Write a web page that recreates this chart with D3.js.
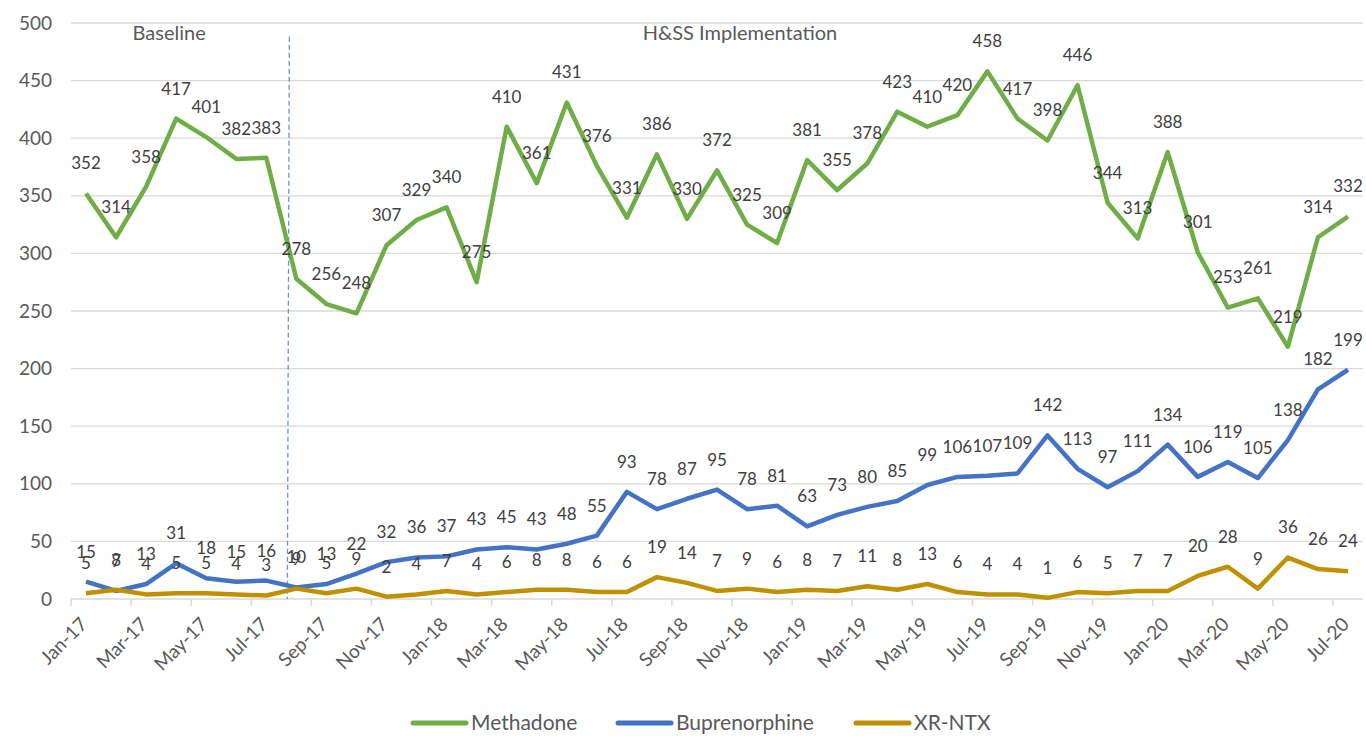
<!DOCTYPE html>
<html>
<head>
<meta charset="utf-8">
<script src="https://cdn.jsdelivr.net/npm/d3@7"></script>
<style>
  body { margin: 0; background: #fff; }
  text { font-family: Lato, "Open Sans", sans-serif; }
</style>
</head>
<body>
<svg id="chart"></svg>
<script>
const months = ["Jan-17","Feb-17","Mar-17","Apr-17","May-17","Jun-17","Jul-17","Aug-17","Sep-17","Oct-17","Nov-17","Dec-17",
  "Jan-18","Feb-18","Mar-18","Apr-18","May-18","Jun-18","Jul-18","Aug-18","Sep-18","Oct-18","Nov-18","Dec-18",
  "Jan-19","Feb-19","Mar-19","Apr-19","May-19","Jun-19","Jul-19","Aug-19","Sep-19","Oct-19","Nov-19","Dec-19",
  "Jan-20","Feb-20","Mar-20","Apr-20","May-20","Jun-20","Jul-20"]

const methadone = [352,314,358,417,401,382,383,278,256,248,307,329,
  340,275,410,361,431,376,331,386,330,372,325,309,
  381,355,378,423,410,420,458,417,398,446,344,313,
  388,301,253,261,219,314,332]

const buprenorphine = [15,7,13,31,18,15,16,10,13,22,32,36,
  37,43,45,43,48,55,93,78,87,95,78,81,
  63,73,80,85,99,106,107,109,142,113,97,111,
  134,106,119,105,138,182,199]

const xrntx = [5,8,4,5,5,4,3,9,5,9,2,4,
  7,4,6,8,8,6,6,19,14,7,9,6,
  8,7,11,8,13,6,4,4,1,6,5,7,
  7,20,28,9,36,26,24]

const yTicks = [0,50,100,150,200,250,300,350,400,450,500]

const series = [
  {name: "Methadone", values: methadone, color: "#70AD47"},
  {name: "Buprenorphine", values: buprenorphine, color: "#4472C4"},
  {name: "XR-NTX", values: xrntx, color: "#BF9000"}
]

// phase labels sit between two months
const phases = [
  {label: "Baseline", from: "Mar-17", to: "Apr-17"},
  {label: "H&SS Implementation", from: "Oct-18", to: "Nov-18"}
]

const width = 1366, height = 736
const margins = {left: 71, right: 3, top: 23, bottom: 137}

const svg = d3.select("#chart").attr("width", width).attr("height", height)

const x = d3.scaleBand().domain(months).range([margins.left, width - margins.right]).padding(0)
const bw = x.bandwidth()
const cx = d => x(d) + bw / 2
const y = d3.scaleLinear().domain([0, 500]).range([height - margins.bottom, margins.top])

// gridlines
svg.append("g").selectAll("line")
  .data(yTicks.filter(d => d > 0))
  .join("line")
  .attr("x1", margins.left).attr("x2", width - margins.right)
  .attr("y1", d => y(d)).attr("y2", d => y(d))
  .attr("stroke", "#D9D9D9").attr("stroke-width", 1.3)

// y axis labels
const yAxis = d3.axisLeft(y).tickValues(yTicks).tickSize(0).tickPadding(19)
const yg = svg.append("g").attr("transform", `translate(${margins.left},0)`).call(yAxis)
yg.select(".domain").remove()
yg.selectAll("text").attr("font-size", 19).attr("fill", "#595959").style("font-family", "Lato, sans-serif")

// x axis line + ticks
const xg = svg.append("g")
xg.append("line")
  .attr("x1", margins.left).attr("x2", width - margins.right)
  .attr("y1", y(0)).attr("y2", y(0))
  .attr("stroke", "#D9D9D9").attr("stroke-width", 1.5)
const tickMonths = months.filter((d, i) => i % 2 === 0)
xg.selectAll("line.tick")
  .data(tickMonths)
  .join("line")
  .attr("class", "tick")
  .attr("x1", d => x(d)).attr("x2", d => x(d))
  .attr("y1", y(0)).attr("y2", y(0) + 7)
  .attr("stroke", "#D9D9D9").attr("stroke-width", 1.5)
xg.selectAll("text")
  .data(tickMonths)
  .join("text")
  .attr("transform", d => `translate(${cx(d) - 7},${y(0) + 17}) rotate(-45)`)
  .attr("text-anchor", "end")
  .attr("dy", "0.7em")
  .attr("font-size", 19)
  .attr("fill", "#595959")
  .text(d => d)

// phase divider
const divX = cx("Aug-17") - 8
svg.append("line")
  .attr("x1", divX + 1).attr("x2", divX - 1)
  .attr("y1", y(488)).attr("y2", y(0))
  .attr("stroke", "#5B9BD5").attr("stroke-width", 1.3)
  .attr("stroke-dasharray", "5,3")

svg.append("g").selectAll("text")
  .data(phases)
  .join("text")
  .attr("x", d => (cx(d.from) + cx(d.to)) / 2 + 8)
  .attr("y", y(485))
  .attr("text-anchor", "middle")
  .attr("font-size", 20)
  .attr("fill", "#595959")
  .text(d => d.label)

// lines
const line = d3.line()
  .x((d, i) => cx(months[i]))
  .y(d => y(d))

svg.append("g").selectAll("path")
  .data(series)
  .join("path")
  .attr("d", d => line(d.values))
  .attr("fill", "none")
  .attr("stroke", d => d.color)
  .attr("stroke-width", 4.5)
  .attr("stroke-linejoin", "round")

// data labels
series.forEach(s => {
  svg.append("g").selectAll("text")
    .data(s.values)
    .join("text")
    .attr("x", (d, i) => cx(months[i]))
    .attr("y", d => y(d) - 30)
    .attr("dy", "0.35em")
    .attr("text-anchor", "middle")
    .attr("font-size", 17)
    .attr("fill", "#404040")
    .text(d => d)
})

// legend
const legendX = [413, 618, 856]
const legend = svg.append("g").selectAll("g")
  .data(series)
  .join("g")
  .attr("transform", (d, i) => `translate(${legendX[i]},723)`)
legend.append("line")
  .attr("x1", 0).attr("x2", 53)
  .attr("stroke", d => d.color).attr("stroke-width", 5).attr("stroke-linecap", "round")
legend.append("text")
  .attr("x", 58)
  .attr("dy", "0.33em")
  .attr("font-size", 21)
  .attr("fill", "#595959")
  .text(d => d.name)
</script>
</body>
</html>
